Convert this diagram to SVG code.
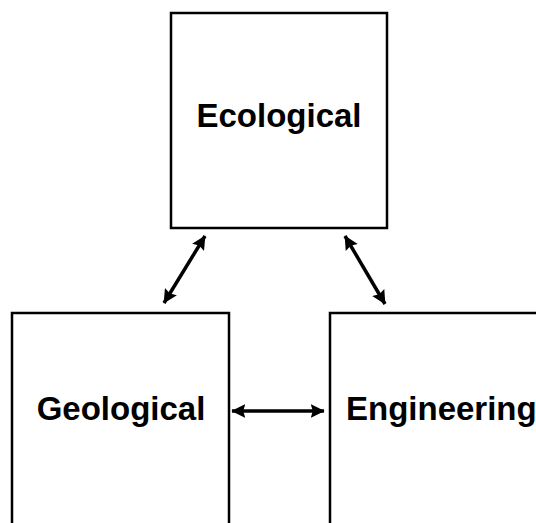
<svg xmlns="http://www.w3.org/2000/svg" width="536" height="523" viewBox="0 0 536 523">
<style>
.box{fill:#fff;stroke:#000;stroke-width:2.5}
.lbl{font-family:"Liberation Sans",Arial,sans-serif;font-weight:bold;font-size:33px;fill:#000}
.conn{stroke:#000;stroke-width:3.5;fill:none;marker-start:url(#ah);marker-end:url(#ah)}
</style>
<defs>
<marker id="ah" viewBox="0 0 10 10" refX="9.5" refY="5" markerWidth="4" markerHeight="4" orient="auto-start-reverse" markerUnits="strokeWidth">
<path d="M0,0 L10,5 L0,10 L1.5,5 Z" fill="#000"/>
</marker>
</defs>
<rect width="536" height="523" fill="#fff"/>
<g id="ecological">
<rect class="box" x="171" y="13" width="216" height="215"/>
<text class="lbl" x="279" y="127" text-anchor="middle">Ecological</text>
</g>
<g id="geological">
<rect class="box" x="12" y="313" width="217" height="220"/>
<text class="lbl" x="121" y="420" text-anchor="middle">Geological</text>
</g>
<g id="engineering">
<rect class="box" x="330" y="313" width="220" height="220"/>
<text class="lbl" x="346" y="420">Engineering</text>
</g>
<g id="connectors">
<line class="conn" x1="205" y1="236" x2="164" y2="303"/>
<line class="conn" x1="345" y1="236" x2="385" y2="304"/>
<line class="conn" x1="232" y1="411" x2="324" y2="411"/>
</g>
</svg>
